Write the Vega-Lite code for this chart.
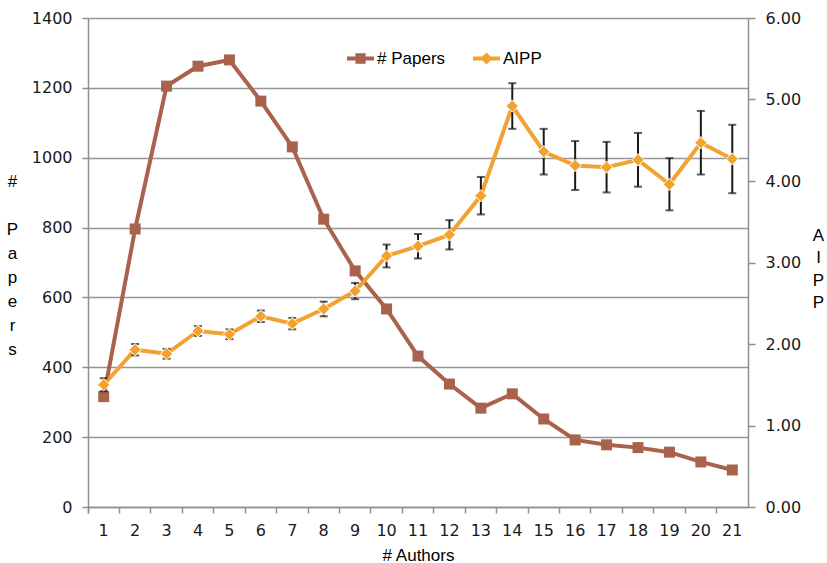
{
  "$schema": "https://vega.github.io/schema/vega-lite/v6.json",
  "autosize": {"type": "none"},
  "padding": {"left": 88, "top": 18, "right": 79, "bottom": 56},
  "width": 660,
  "height": 489,
  "background": "white",
  "config": {
    "view": {"stroke": null},
    "axis": {
      "labelFont": "DejaVu Sans",
      "labelFontSize": 16,
      "labelColor": "#1a1a1a",
      "titleFont": "Liberation Sans",
      "titleFontSize": 17,
      "titleFontWeight": "normal",
      "titleColor": "#000000",
      "domainColor": "#8f8f8f",
      "domainWidth": 1.5,
      "tickColor": "#8f8f8f",
      "tickWidth": 1.5,
      "gridColor": "#969696",
      "gridWidth": 1.5
    },
    "legend": {
      "orient": "none",
      "direction": "horizontal",
      "padding": 0,
      "symbolSize": 729,
      "symbolStrokeWidth": 0,
      "symbolOpacity": 1,
      "labelFont": "Liberation Sans",
      "labelFontSize": 17,
      "labelColor": "#000000",
      "labelOffset": 3
    }
  },
  "data": {
    "values": [
      {"authors": 1, "papers": 316, "aipp": 1.50, "lo": 1.42, "hi": 1.58},
      {"authors": 2, "papers": 796, "aipp": 1.93, "lo": 1.86, "hi": 2.00},
      {"authors": 3, "papers": 1205, "aipp": 1.88, "lo": 1.82, "hi": 1.94},
      {"authors": 4, "papers": 1262, "aipp": 2.16, "lo": 2.10, "hi": 2.22},
      {"authors": 5, "papers": 1280, "aipp": 2.12, "lo": 2.06, "hi": 2.18},
      {"authors": 6, "papers": 1162, "aipp": 2.34, "lo": 2.27, "hi": 2.41},
      {"authors": 7, "papers": 1031, "aipp": 2.25, "lo": 2.18, "hi": 2.32},
      {"authors": 8, "papers": 824, "aipp": 2.43, "lo": 2.34, "hi": 2.52},
      {"authors": 9, "papers": 676, "aipp": 2.65, "lo": 2.55, "hi": 2.75},
      {"authors": 10, "papers": 567, "aipp": 3.08, "lo": 2.94, "hi": 3.22},
      {"authors": 11, "papers": 432, "aipp": 3.20, "lo": 3.05, "hi": 3.35},
      {"authors": 12, "papers": 352, "aipp": 3.34, "lo": 3.16, "hi": 3.52},
      {"authors": 13, "papers": 283, "aipp": 3.82, "lo": 3.59, "hi": 4.05},
      {"authors": 14, "papers": 324, "aipp": 4.92, "lo": 4.64, "hi": 5.20},
      {"authors": 15, "papers": 252, "aipp": 4.36, "lo": 4.08, "hi": 4.64},
      {"authors": 16, "papers": 192, "aipp": 4.19, "lo": 3.89, "hi": 4.49},
      {"authors": 17, "papers": 178, "aipp": 4.17, "lo": 3.86, "hi": 4.48},
      {"authors": 18, "papers": 170, "aipp": 4.26, "lo": 3.93, "hi": 4.59},
      {"authors": 19, "papers": 157, "aipp": 3.96, "lo": 3.64, "hi": 4.28},
      {"authors": 20, "papers": 129, "aipp": 4.47, "lo": 4.08, "hi": 4.86},
      {"authors": 21, "papers": 106, "aipp": 4.27, "lo": 3.85, "hi": 4.69}
    ]
  },
  "encoding": {
    "x": {
      "field": "authors",
      "type": "ordinal",
      "scale": {"paddingInner": 0, "paddingOuter": 0},
      "axis": {
        "title": "# Authors",
        "labelAngle": 0,
        "bandPosition": 0,
        "tickExtra": true,
        "tickSize": 6,
        "labelPadding": 9,
        "titleY": 40,
        "titleBaseline": "top",
        "grid": false
      }
    }
  },
  "layer": [
    {
      "layer": [
        {
          "mark": {"type": "line", "color": "#A9624B", "strokeWidth": 4},
          "encoding": {
            "y": {
              "field": "papers",
              "type": "quantitative",
              "scale": {"domain": [0, 1400], "nice": false},
              "axis": {
                "title": ["#", "\u2800", "P", "a", "p", "e", "r", "s"],
                "titleAngle": 0,
                "titleAlign": "center",
                "titleBaseline": "top",
                "titleLineHeight": 24,
                "titleX": -76,
                "titleY": 155,
                "values": [0, 200, 400, 600, 800, 1000, 1200, 1400],
                "format": "d",
                "grid": true,
                "tickSize": 6,
                "labelPadding": 10
              }
            }
          }
        },
        {
          "mark": {"type": "square", "size": 121, "opacity": 1, "filled": true},
          "encoding": {
            "y": {
              "field": "papers",
              "type": "quantitative",
              "axis": {
                "title": ["#", "\u2800", "P", "a", "p", "e", "r", "s"],
                "titleAngle": 0,
                "titleAlign": "center",
                "titleBaseline": "top",
                "titleLineHeight": 24,
                "titleX": -76,
                "titleY": 155,
                "values": [0, 200, 400, 600, 800, 1000, 1200, 1400],
                "format": "d",
                "grid": true,
                "tickSize": 6,
                "labelPadding": 10
              }
            },
            "color": {
              "datum": "# Papers",
              "scale": {"domain": ["# Papers"], "range": ["#A9624B"]},
              "legend": {
                "legendX": 259,
                "legendY": 27,
                "title": null,
                "symbolType": "M-1,-0.15H1V0.15H-1Z M-0.38,-0.38H0.38V0.38H-0.38Z"
              }
            }
          }
        }
      ]
    },
    {
      "layer": [
        {
          "mark": {"type": "line", "color": "#F2A230", "strokeWidth": 4},
          "encoding": {
            "y": {
              "field": "aipp",
              "type": "quantitative",
              "scale": {"domain": [0, 6], "nice": false},
              "axis": {
                "orient": "right",
                "title": ["A", "I", "P", "P"],
                "titleAngle": 0,
                "titleAlign": "center",
                "titleBaseline": "top",
                "titleLineHeight": 22.5,
                "titleX": 70,
                "titleY": 209,
                "values": [0, 1, 2, 3, 4, 5, 6],
                "format": ".2f",
                "grid": false,
                "tickSize": 7,
                "labelPadding": 10
              }
            }
          }
        },
        {
          "mark": {"type": "rule", "color": "#1a1a1a", "strokeWidth": 2},
          "encoding": {
            "y": {
              "field": "lo",
              "type": "quantitative",
              "axis": {
                "orient": "right",
                "title": ["A", "I", "P", "P"],
                "titleAngle": 0,
                "titleAlign": "center",
                "titleBaseline": "top",
                "titleLineHeight": 22.5,
                "titleX": 70,
                "titleY": 209,
                "values": [0, 1, 2, 3, 4, 5, 6],
                "format": ".2f",
                "grid": false,
                "tickSize": 7,
                "labelPadding": 10
              }
            },
            "y2": {"field": "hi"}
          }
        },
        {
          "mark": {"type": "tick", "color": "#1a1a1a", "size": 8, "thickness": 2, "orient": "horizontal"},
          "encoding": {
            "y": {
              "field": "lo",
              "type": "quantitative",
              "axis": {
                "orient": "right",
                "title": ["A", "I", "P", "P"],
                "titleAngle": 0,
                "titleAlign": "center",
                "titleBaseline": "top",
                "titleLineHeight": 22.5,
                "titleX": 70,
                "titleY": 209,
                "values": [0, 1, 2, 3, 4, 5, 6],
                "format": ".2f",
                "grid": false,
                "tickSize": 7,
                "labelPadding": 10
              }
            }
          }
        },
        {
          "mark": {"type": "tick", "color": "#1a1a1a", "size": 8, "thickness": 2, "orient": "horizontal"},
          "encoding": {
            "y": {
              "field": "hi",
              "type": "quantitative",
              "axis": {
                "orient": "right",
                "title": ["A", "I", "P", "P"],
                "titleAngle": 0,
                "titleAlign": "center",
                "titleBaseline": "top",
                "titleLineHeight": 22.5,
                "titleX": 70,
                "titleY": 209,
                "values": [0, 1, 2, 3, 4, 5, 6],
                "format": ".2f",
                "grid": false,
                "tickSize": 7,
                "labelPadding": 10
              }
            }
          }
        },
        {
          "mark": {"type": "point", "shape": "diamond", "size": 150, "filled": true, "opacity": 1, "stroke": "white", "strokeWidth": 1},
          "encoding": {
            "y": {
              "field": "aipp",
              "type": "quantitative",
              "axis": {
                "orient": "right",
                "title": ["A", "I", "P", "P"],
                "titleAngle": 0,
                "titleAlign": "center",
                "titleBaseline": "top",
                "titleLineHeight": 22.5,
                "titleX": 70,
                "titleY": 209,
                "values": [0, 1, 2, 3, 4, 5, 6],
                "format": ".2f",
                "grid": false,
                "tickSize": 7,
                "labelPadding": 10
              }
            },
            "fill": {
              "datum": "AIPP",
              "scale": {"domain": ["AIPP"], "range": ["#F2A230"]},
              "legend": {
                "legendX": 385,
                "legendY": 27,
                "title": null,
                "symbolType": "M-1,-0.15H1V0.15H-1Z M0,-0.45L0.45,0L0,0.45L-0.45,0Z"
              }
            }
          }
        }
      ]
    }
  ],
  "resolve": {"scale": {"y": "independent"}}
}
